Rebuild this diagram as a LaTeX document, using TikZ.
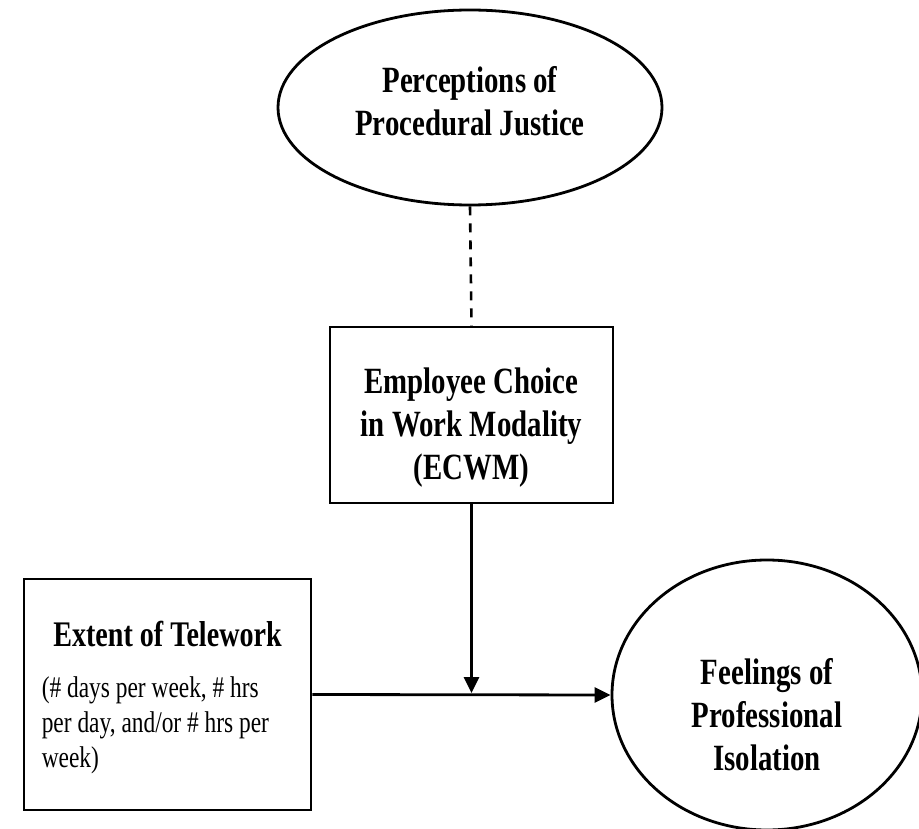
\documentclass[tikz,border=0pt]{standalone}
\usepackage{fontspec}
\setmainfont{Liberation Serif}[FakeStretch=0.78]
\usetikzlibrary{arrows.meta}
\tikzset{>={Triangle[length=16pt,width=15pt]}}
\usetikzlibrary{shapes.geometric}
\tikzstyle{arrow} = [line width=2.8pt,->]
\tikzstyle{box} = [draw,line width=2.8pt,rectangle,inner sep=0pt]
\tikzstyle{oval} = [draw,line width=2.8pt,ellipse,inner sep=0pt]
\tikzstyle{head} = [font=\fontsize{37}{43}\selectfont\bfseries,align=center,inner sep=0pt]
\tikzstyle{note} = [font=\fontsize{30}{35}\selectfont,align=left,inner sep=0pt]

\begin{document}
\begin{tikzpicture}[x=1pt,y=-1pt]
\useasboundingbox (0,0) rectangle (919,829);
% shapes
\node[oval,minimum width=384pt,minimum height=195pt] (justice) at (470,107.5) {};
\node[box,minimum width=283pt,minimum height=176pt] (ecwm) at (471.5,415) {};
\node[box,minimum width=287pt,minimum height=231pt] (extent) at (167.5,694.5) {};
\node[oval,minimum width=310pt,minimum height=270pt] (feel) at (767,695) {};
% texts
\node[head] (justicetxt) at ([yshift=6pt]justice.center)
 {Perceptions of\\Procedural Justice};
\node[head] (ecwmtxt) at ([yshift=-13pt]ecwm.center)
 {Employee Choice\\in Work Modality\\(ECWM)};
\node[head] (feeltxt) at ([yshift=-20pt]feel.center)
 {Feelings of\\Professional\\Isolation};
\node[head,font=\fontsize{36}{42}\selectfont\bfseries,anchor=base]
 (extenttitle) at ([yshift=-69pt]extent.north) {Extent of Telework};
\node[note,anchor=north west] (extentnote) at ([xshift=19pt,yshift=-99pt]extent.north west)
 {(\# days per week, \# hrs\\per day, and/or \# hrs per\\week)};
% connectors
\coordinate (meet) at (ecwm.south |- extent.east);
\draw[line width=2.6pt,dash pattern=on 9pt off 8pt] (justice.south) -- (ecwm.north);
\draw[arrow] (ecwm.south) -- ([yshift=1.4pt]meet);
\draw[arrow] (extent.east) -- (feel.west);
\end{tikzpicture}
\end{document}
